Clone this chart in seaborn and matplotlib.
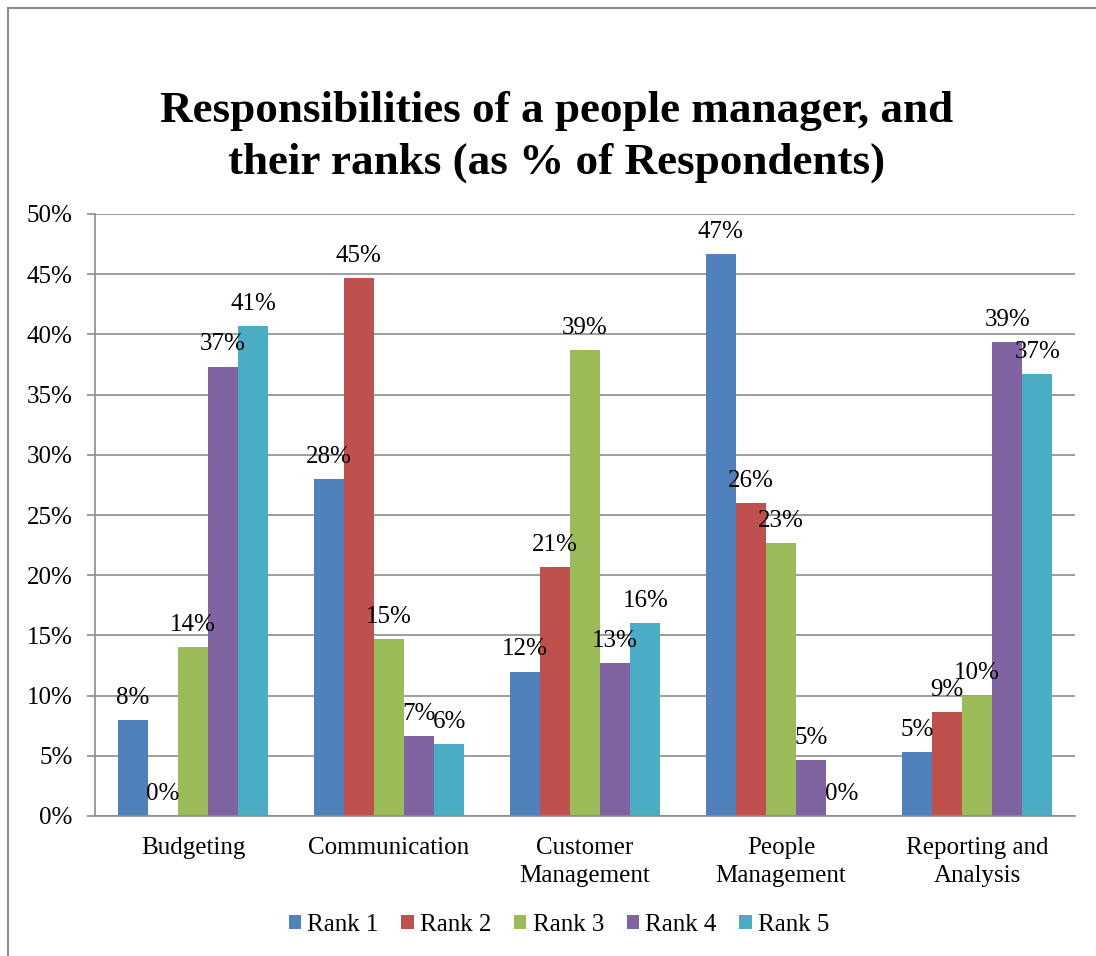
import matplotlib
matplotlib.use("Agg")
import matplotlib.pyplot as plt
from matplotlib.patches import Rectangle
from matplotlib.ticker import FuncFormatter, FixedLocator
import seaborn as sns
import pandas as pd

# Share of respondents (%) giving each responsibility a given rank
categories = ["Budgeting", "Communication", "Customer\nManagement",
              "People\nManagement", "Reporting and\nAnalysis"]
ranks = ["Rank 1", "Rank 2", "Rank 3", "Rank 4", "Rank 5"]
rank_1 = [8.0, 28.0, 12.0, 46.67, 5.33]
rank_2 = [0.0, 44.67, 20.67, 26.0, 8.67]
rank_3 = [14.0, 14.67, 38.67, 22.67, 10.0]
rank_4 = [37.33, 6.67, 12.67, 4.67, 39.33]
rank_5 = [40.67, 6.0, 16.0, 0.0, 36.67]
y_ticks = [0, 5, 10, 15, 20, 25, 30, 35, 40, 45, 50]

colors = ["#4F81BD", "#C0504D", "#9BBB59", "#8064A2", "#4BACC6"]
title = "Responsibilities of a people manager, and\ntheir ranks (as % of Respondents)"

series = [rank_1, rank_2, rank_3, rank_4, rank_5]
df = pd.DataFrame({
    "Responsibility": [c for _ in ranks for c in categories],
    "Rank": [r for r in ranks for _ in categories],
    "Percent": [v for s in series for v in s],
})

sns.set_theme(style="white")
plt.rcParams["font.family"] = ["Liberation Serif", "DejaVu Serif"]
plt.rcParams["text.color"] = "black"
plt.rcParams["xtick.color"] = "black"
plt.rcParams["ytick.color"] = "black"

FS = 18
W, H = 1096, 956
fig = plt.figure(figsize=(W / 100, H / 100), dpi=100)
ax = fig.add_axes([95 / W, (H - 816) / H, 980 / W, 602 / H])

sns.barplot(data=df, x="Responsibility", y="Percent", hue="Rank",
            order=categories, hue_order=ranks, palette=colors,
            width=5 / 6.5, saturation=1, errorbar=None, linewidth=0, ax=ax)

# value labels above every bar
for cont, vals in zip(ax.containers, series):
    ax.bar_label(cont, labels=[f"{round(v)}%" for v in vals],
                 padding=8, fontsize=FS, color="black")

grid_c = "#8C8C8C"
ax.set_ylim(0, 50)
ax.set_xlim(-0.5, len(categories) - 0.5)
ax.yaxis.set_major_locator(FixedLocator(y_ticks))
ax.yaxis.set_major_formatter(FuncFormatter(lambda v, p: f"{v:.0f}%"))
ax.grid(axis="y", color=grid_c, linewidth=1.2)
ax.set_axisbelow(True)

ax.set_xlabel("")
ax.set_ylabel("")
ax.set_xticks(range(len(categories)))
ax.set_xticklabels(categories, fontsize=FS, linespacing=1.36)
ax.xaxis.set_minor_locator(FixedLocator([i - 0.5 for i in range(len(categories) + 1)]))
ax.tick_params(axis="x", which="major", length=0, pad=15, labelcolor="black")
ax.tick_params(axis="x", which="minor", length=6, width=1.2, color=grid_c, direction="out")
ax.tick_params(axis="y", which="major", length=6, width=1.2, color=grid_c,
               direction="out", labelsize=FS, pad=10, left=True, labelcolor="black")

for side in ["top", "right"]:
    ax.spines[side].set_visible(False)
for side in ["left", "bottom"]:
    ax.spines[side].set_color(grid_c)
    ax.spines[side].set_linewidth(1.2)

# legend along the bottom
handles, labels = ax.get_legend_handles_labels()
ax.legend_.remove()
fig.legend(handles, labels, loc="center", bbox_to_anchor=(559 / W, 31 / H),
           ncol=5, frameon=False, fontsize=FS, handlelength=0.5, handleheight=0.5,
           handletextpad=0.25, columnspacing=0.9)

fig.text(557 / W, (H - 137) / H, title, ha="center", va="center",
         fontsize=32.5, fontweight="bold", linespacing=1.36, color="black")

# chart frame
fig.add_artist(Rectangle((8 / W, -0.1), 1.2, (H - 8) / H + 0.1,
                         transform=fig.transFigure, fill=False,
                         edgecolor="#8C8C8C", linewidth=1.5))

fig.savefig("out.png", dpi=100)
